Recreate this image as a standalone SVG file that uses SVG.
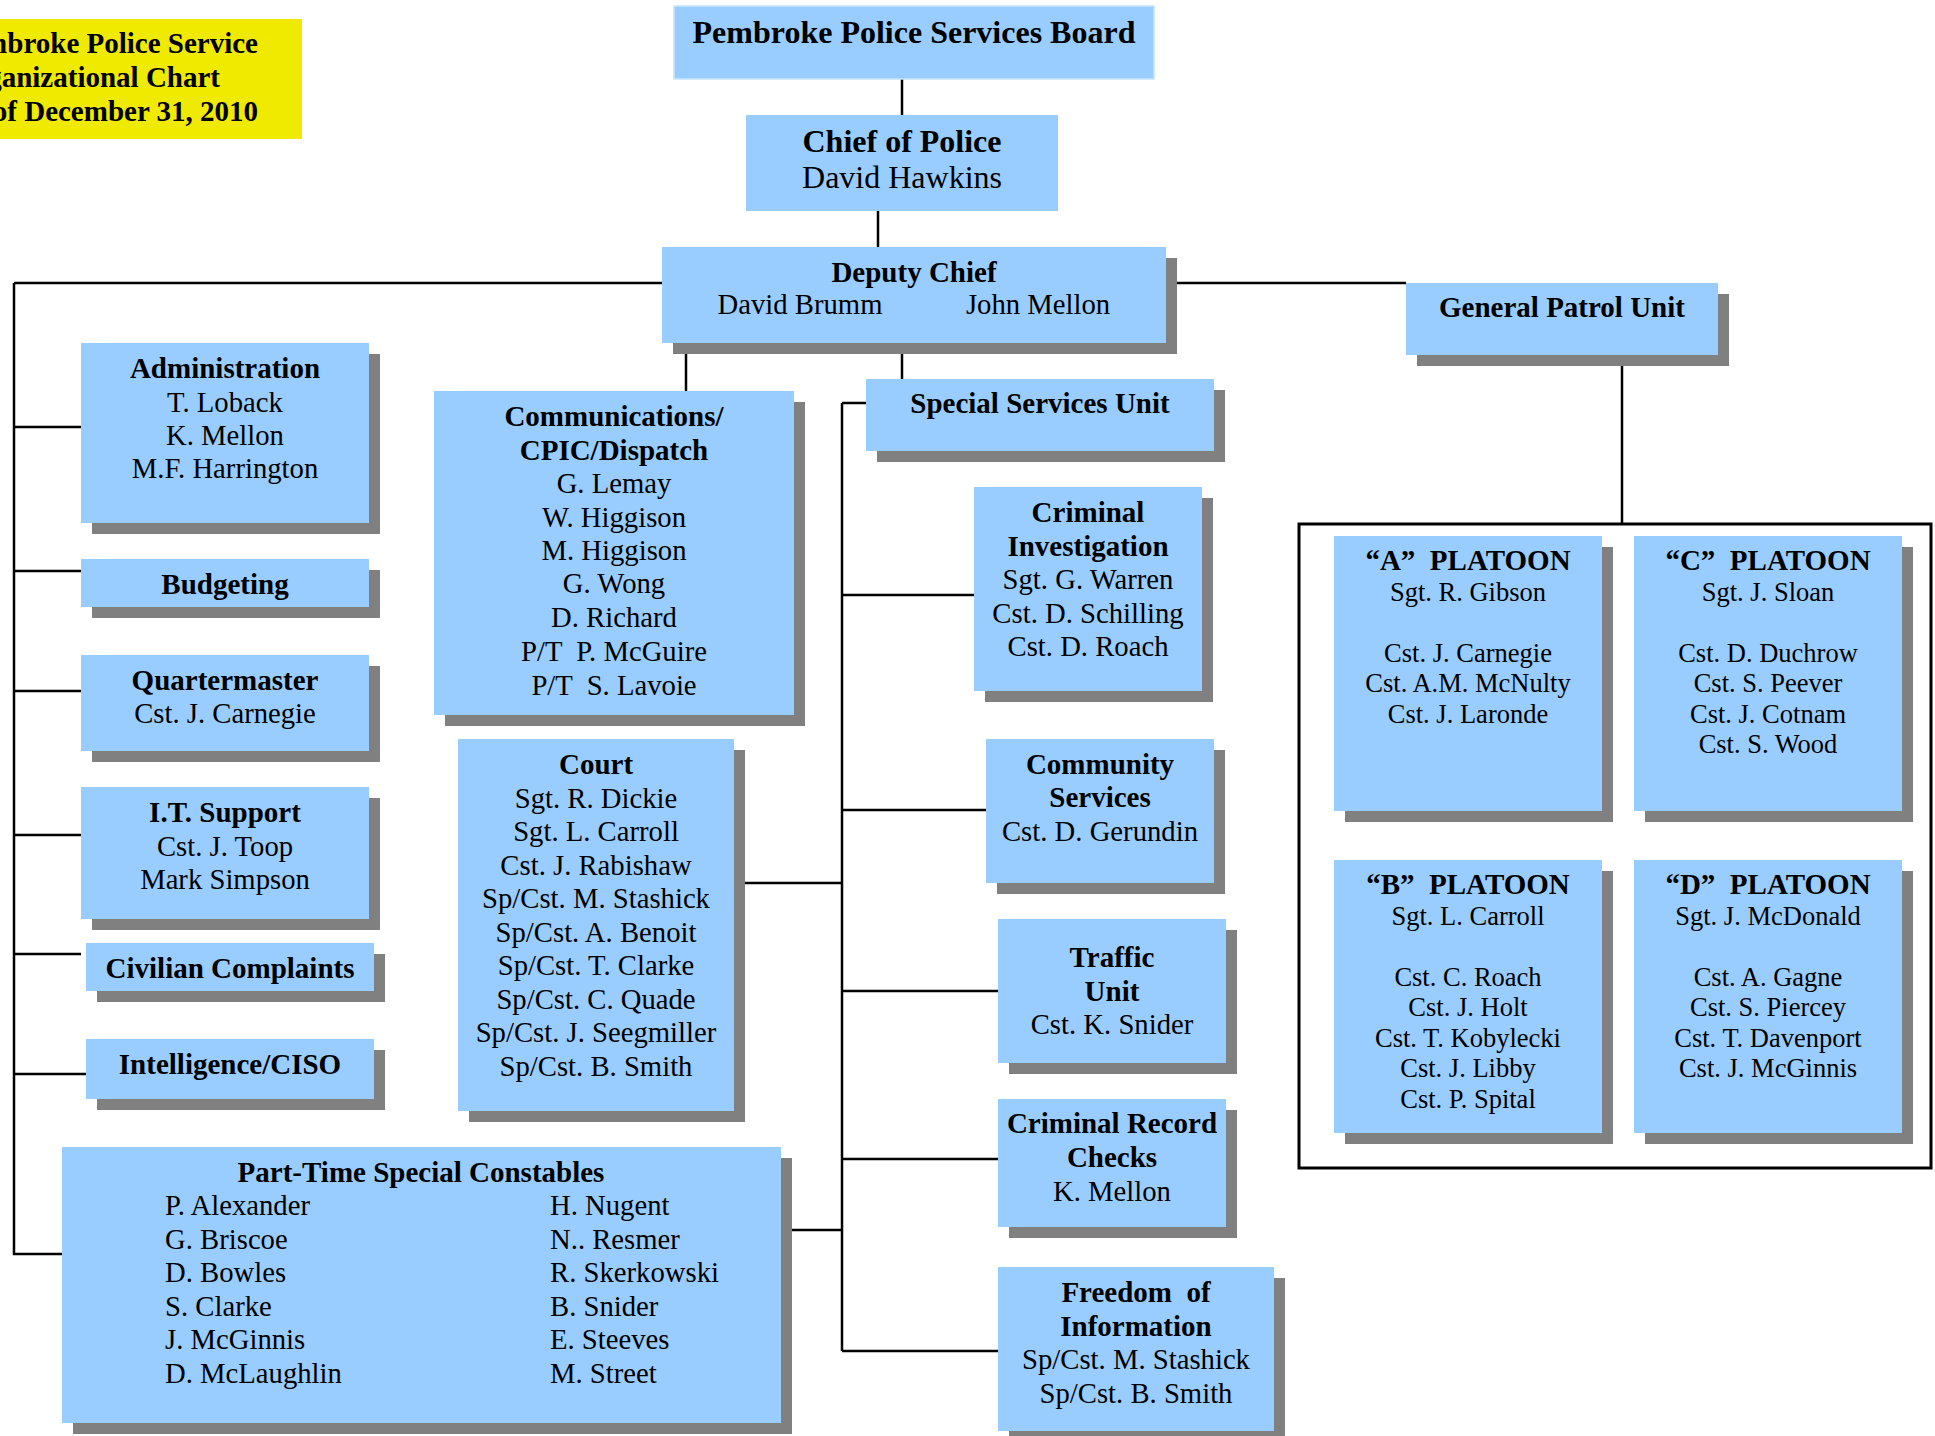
<svg xmlns="http://www.w3.org/2000/svg" width="1935" height="1436" viewBox="0 0 1935 1436" xml:space="preserve">
<style>
.bx{fill:#99CCFF}
.sh{fill:#808080}
.t{font-family:"Liberation Serif","Times New Roman",serif;font-size:28.7px;text-anchor:middle;fill:#000;white-space:pre}
.b{font-weight:bold;font-size:29px}
.p{font-size:26.5px}
.l{text-anchor:start}
.ln{stroke:#000;stroke-width:2.5;fill:none}
</style>
<rect width="1935" height="1436" fill="#fff"/>
<g id="connectors">
<path class="ln" d="M902 79V115 M878 211V247 M14 283H1406 M14 283V1254H62 M14 427H81 M14 571H81 M14 691H81 M14 835H81 M14 954H81 M14 1074H86 M686 343V391 M902 343V379 M842 403H866 M842 403V1351 M842 595H974 M842 810H986 M842 991H998 M842 1159H998 M842 1351H998 M734 883H842 M781 1230H842 M1622 355V524"/>
</g>
<g id="title">
<rect x="0" y="19" width="302" height="120" fill="#F0EA00"/>
<text class="t b" style="text-anchor:end" x="258" y="53">Pembroke Police Service</text>
<text class="t b" style="text-anchor:end" x="220" y="87">Organizational Chart</text>
<text class="t b" style="text-anchor:end" x="258" y="121">As of December 31, 2010</text>
</g>
<g id="board">
<rect class="bx" x="674" y="6" width="480" height="73" stroke="#C8E4FF" stroke-width="1.5"/>
<text class="t b" style="font-size:32px" x="914" y="43">Pembroke Police Services Board</text>
</g>
<g id="chief">
<rect class="bx" x="746" y="115" width="312" height="96"/>
<text class="t b" style="font-size:32px" x="902" y="152">Chief of Police</text>
<text class="t" style="font-size:32px" x="902" y="188">David Hawkins</text>
</g>
<g id="deputy">
<rect class="sh" x="673" y="258" width="504" height="96"/>
<rect class="bx" x="662" y="247" width="504" height="96"/>
<text class="t b" x="914" y="282">Deputy Chief</text>
<text class="t" x="800" y="314">David Brumm</text>
<text class="t" x="1038" y="314">John Mellon</text>
</g>
<g id="gpu">
<rect class="sh" x="1417" y="294" width="312" height="72"/>
<rect class="bx" x="1406" y="283" width="312" height="72"/>
<text class="t b" x="1562" y="317">General Patrol Unit</text>
</g>
<g id="admin">
<rect class="sh" x="92" y="354" width="288" height="180"/>
<rect class="bx" x="81" y="343" width="288" height="180"/>
<text class="t b" x="225" y="378">Administration</text>
<text class="t" x="225" y="412">T. Loback</text>
<text class="t" x="225" y="445">K. Mellon</text>
<text class="t" x="225" y="478">M.F. Harrington</text>
</g>
<g id="budgeting">
<rect class="sh" x="92" y="570" width="288" height="48"/>
<rect class="bx" x="81" y="559" width="288" height="48"/>
<text class="t b" x="225" y="594">Budgeting</text>
</g>
<g id="quartermaster">
<rect class="sh" x="92" y="666" width="288" height="96"/>
<rect class="bx" x="81" y="655" width="288" height="96"/>
<text class="t b" x="225" y="690">Quartermaster</text>
<text class="t" x="225" y="723">Cst. J. Carnegie</text>
</g>
<g id="itsupport">
<rect class="sh" x="92" y="798" width="288" height="132"/>
<rect class="bx" x="81" y="787" width="288" height="132"/>
<text class="t b" x="225" y="822">I.T. Support</text>
<text class="t" x="225" y="856">Cst. J. Toop</text>
<text class="t" x="225" y="889">Mark Simpson</text>
</g>
<g id="civilian">
<rect class="sh" x="97" y="954" width="288" height="48"/>
<rect class="bx" x="86" y="943" width="288" height="48"/>
<text class="t b" x="230" y="978">Civilian Complaints</text>
</g>
<g id="intelligence">
<rect class="sh" x="97" y="1050" width="288" height="60"/>
<rect class="bx" x="86" y="1039" width="288" height="60"/>
<text class="t b" x="230" y="1074">Intelligence/CISO</text>
</g>
<g id="communications">
<rect class="sh" x="445" y="402" width="360" height="324"/>
<rect class="bx" x="434" y="391" width="360" height="324"/>
<text class="t b" x="614" y="426">Communications/</text>
<text class="t b" x="614" y="460">CPIC/Dispatch</text>
<text class="t" x="614" y="493">G. Lemay</text>
<text class="t" x="614" y="527">W. Higgison</text>
<text class="t" x="614" y="560">M. Higgison</text>
<text class="t" x="614" y="593">G. Wong</text>
<text class="t" x="614" y="627">D. Richard</text>
<text class="t" x="614" y="661">P/T  P. McGuire</text>
<text class="t" x="614" y="695">P/T  S. Lavoie</text>
</g>
<g id="court">
<rect class="sh" x="469" y="750" width="276" height="372"/>
<rect class="bx" x="458" y="739" width="276" height="372"/>
<text class="t b" x="596" y="774">Court</text>
<text class="t" x="596" y="807.5">Sgt. R. Dickie</text>
<text class="t" x="596" y="841">Sgt. L. Carroll</text>
<text class="t" x="596" y="874.5">Cst. J. Rabishaw</text>
<text class="t" x="596" y="908">Sp/Cst. M. Stashick</text>
<text class="t" x="596" y="941.5">Sp/Cst. A. Benoit</text>
<text class="t" x="596" y="975">Sp/Cst. T. Clarke</text>
<text class="t" x="596" y="1008.5">Sp/Cst. C. Quade</text>
<text class="t" x="596" y="1042">Sp/Cst. J. Seegmiller</text>
<text class="t" x="596" y="1075.5">Sp/Cst. B. Smith</text>
</g>
<g id="parttime">
<rect class="sh" x="73" y="1158" width="719" height="276"/>
<rect class="bx" x="62" y="1147" width="719" height="276"/>
<text class="t b" x="421" y="1182">Part-Time Special Constables</text>
<text class="t l" x="165" y="1215">P. Alexander</text>
<text class="t l" x="165" y="1248.5">G. Briscoe</text>
<text class="t l" x="165" y="1282">D. Bowles</text>
<text class="t l" x="165" y="1315.5">S. Clarke</text>
<text class="t l" x="165" y="1349">J. McGinnis</text>
<text class="t l" x="165" y="1382.5">D. McLaughlin</text>
<text class="t l" x="550" y="1215">H. Nugent</text>
<text class="t l" x="550" y="1248.5">N.. Resmer</text>
<text class="t l" x="550" y="1282">R. Skerkowski</text>
<text class="t l" x="550" y="1315.5">B. Snider</text>
<text class="t l" x="550" y="1349">E. Steeves</text>
<text class="t l" x="550" y="1382.5">M. Street</text>
</g>
<g id="ssu">
<rect class="sh" x="877" y="390" width="348" height="72"/>
<rect class="bx" x="866" y="379" width="348" height="72"/>
<text class="t b" x="1040" y="413">Special Services Unit</text>
</g>
<g id="criminal-investigation">
<rect class="sh" x="985" y="498" width="228" height="204"/>
<rect class="bx" x="974" y="487" width="228" height="204"/>
<text class="t b" x="1088" y="522">Criminal</text>
<text class="t b" x="1088" y="556">Investigation</text>
<text class="t" x="1088" y="589">Sgt. G. Warren</text>
<text class="t" x="1088" y="623">Cst. D. Schilling</text>
<text class="t" x="1088" y="656">Cst. D. Roach</text>
</g>
<g id="community">
<rect class="sh" x="997" y="750" width="228" height="144"/>
<rect class="bx" x="986" y="739" width="228" height="144"/>
<text class="t b" x="1100" y="774">Community</text>
<text class="t b" x="1100" y="807">Services</text>
<text class="t" x="1100" y="841">Cst. D. Gerundin</text>
</g>
<g id="traffic">
<rect class="sh" x="1009" y="930" width="228" height="144"/>
<rect class="bx" x="998" y="919" width="228" height="144"/>
<text class="t b" x="1112" y="967">Traffic</text>
<text class="t b" x="1112" y="1001">Unit</text>
<text class="t" x="1112" y="1034">Cst. K. Snider</text>
</g>
<g id="crc">
<rect class="sh" x="1009" y="1110" width="228" height="128"/>
<rect class="bx" x="998" y="1099" width="228" height="128"/>
<text class="t b" x="1112" y="1133">Criminal Record</text>
<text class="t b" x="1112" y="1167">Checks</text>
<text class="t" x="1112" y="1201">K. Mellon</text>
</g>
<g id="foi">
<rect class="sh" x="1009" y="1278" width="276" height="164"/>
<rect class="bx" x="998" y="1267" width="276" height="164"/>
<text class="t b" x="1136" y="1302">Freedom  of</text>
<text class="t b" x="1136" y="1336">Information</text>
<text class="t" x="1136" y="1369">Sp/Cst. M. Stashick</text>
<text class="t" x="1136" y="1403">Sp/Cst. B. Smith</text>
</g>
<g id="platoons-frame">
<rect x="1299" y="524" width="632" height="644" fill="none" stroke="#000" stroke-width="3"/>
</g>
<g id="platoon-a">
<rect class="sh" x="1345" y="547" width="268" height="275"/>
<rect class="bx" x="1334" y="536" width="268" height="275"/>
<text class="t b" x="1468" y="570">“A”  PLATOON</text>
<text class="t p" x="1468" y="600.5">Sgt. R. Gibson</text>
<text class="t p" x="1468" y="661.5">Cst. J. Carnegie</text>
<text class="t p" x="1468" y="692">Cst. A.M. McNulty</text>
<text class="t p" x="1468" y="722.5">Cst. J. Laronde</text>
</g>
<g id="platoon-c">
<rect class="sh" x="1645" y="547" width="268" height="275"/>
<rect class="bx" x="1634" y="536" width="268" height="275"/>
<text class="t b" x="1768" y="570">“C”  PLATOON</text>
<text class="t p" x="1768" y="600.5">Sgt. J. Sloan</text>
<text class="t p" x="1768" y="661.5">Cst. D. Duchrow</text>
<text class="t p" x="1768" y="692">Cst. S. Peever</text>
<text class="t p" x="1768" y="722.5">Cst. J. Cotnam</text>
<text class="t p" x="1768" y="753">Cst. S. Wood</text>
</g>
<g id="platoon-b">
<rect class="sh" x="1345" y="871" width="268" height="273"/>
<rect class="bx" x="1334" y="860" width="268" height="273"/>
<text class="t b" x="1468" y="894">“B”  PLATOON</text>
<text class="t p" x="1468" y="924.5">Sgt. L. Carroll</text>
<text class="t p" x="1468" y="985.5">Cst. C. Roach</text>
<text class="t p" x="1468" y="1016">Cst. J. Holt</text>
<text class="t p" x="1468" y="1046.5">Cst. T. Kobylecki</text>
<text class="t p" x="1468" y="1077">Cst. J. Libby</text>
<text class="t p" x="1468" y="1107.5">Cst. P. Spital</text>
</g>
<g id="platoon-d">
<rect class="sh" x="1645" y="871" width="268" height="273"/>
<rect class="bx" x="1634" y="860" width="268" height="273"/>
<text class="t b" x="1768" y="894">“D”  PLATOON</text>
<text class="t p" x="1768" y="924.5">Sgt. J. McDonald</text>
<text class="t p" x="1768" y="985.5">Cst. A. Gagne</text>
<text class="t p" x="1768" y="1016">Cst. S. Piercey</text>
<text class="t p" x="1768" y="1046.5">Cst. T. Davenport</text>
<text class="t p" x="1768" y="1077">Cst. J. McGinnis</text>
</g>
</svg>
